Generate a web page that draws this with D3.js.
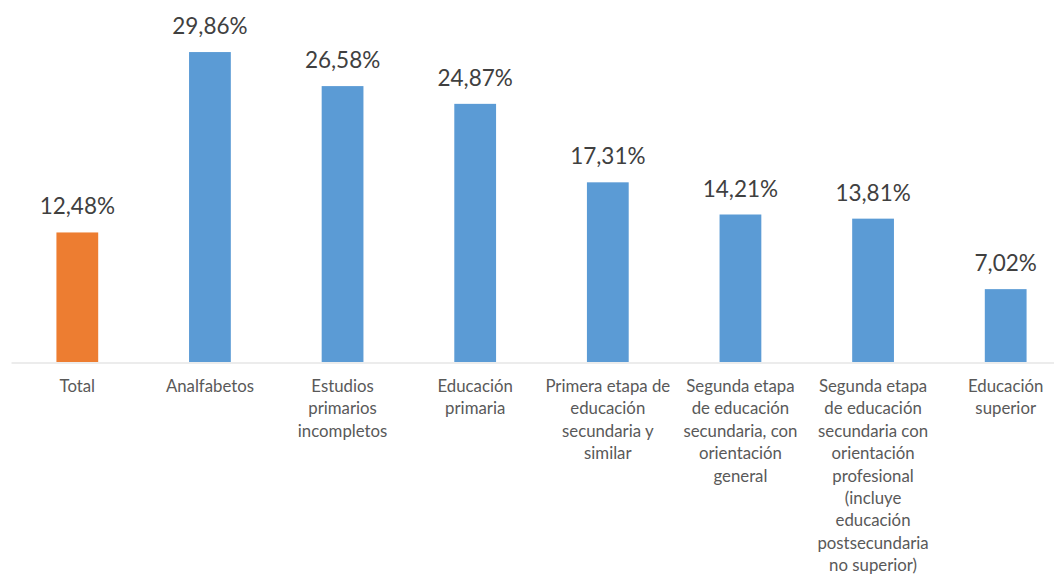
<!DOCTYPE html>
<html>
<head>
<meta charset="utf-8">
<script src="https://cdn.jsdelivr.net/npm/d3@7"></script>
<style>
  body { margin: 0; background: #fff; }
  text { font-family: Lato, "Open Sans", sans-serif; }
</style>
</head>
<body>
<svg id="bar"></svg>
<script>
// chart values
const categories = [
  ['Total'],
  ['Analfabetos'],
  ['Estudios', 'primarios', 'incompletos'],
  ['Educación', 'primaria'],
  ['Primera etapa de', 'educación', 'secundaria y', 'similar'],
  ['Segunda etapa', 'de educación', 'secundaria, con', 'orientación', 'general'],
  ['Segunda etapa', 'de educación', 'secundaria con', 'orientación', 'profesional', '(incluye', 'educación', 'postsecundaria', 'no superior)'],
  ['Educación', 'superior']
];
const values = [12.48, 29.86, 26.58, 24.87, 17.31, 14.21, 13.81, 7.02];
const valueLabels = ['12,48%', '29,86%', '26,58%', '24,87%', '17,31%', '14,21%', '13,81%', '7,02%'];

const width = 1054;
const height = 576;
const baseline = 362;

const orange = '#ED7D31';
const blue = '#5B9BD5';

const svg = d3.select('#bar')
  .attr('width', width)
  .attr('height', height);

const keys = categories.map((c, i) => i);

const scales = {
  x: d3.scaleBand().domain(keys).range([11, 1072]).paddingInner(0.685).paddingOuter(0.3425),
  y: d3.scaleLinear().domain([0, 30]).range([baseline, baseline - 311.4])
};

// bars
svg.append('g').attr('id', 'bars')
  .selectAll('rect')
  .data(values)
  .enter()
  .append('rect')
  .attr('x', (d, i) => scales.x(i))
  .attr('y', d => scales.y(d))
  .attr('width', scales.x.bandwidth())
  .attr('height', d => scales.y(0) - scales.y(d))
  .attr('fill', (d, i) => i === 0 ? orange : blue);

// baseline axis
const xAxis = d3.axisBottom(scales.x).tickSize(0).tickFormat('');
const xGroup = svg.append('g').attr('id', 'x-axis')
  .attr('transform', 'translate(0,' + (baseline + 0.5) + ')')
  .call(xAxis);
xGroup.select('.domain').attr('stroke', '#D9D9D9').attr('stroke-width', 1.2);

// category labels
const catGroup = svg.append('g').attr('id', 'categories');
categories.forEach((lines, i) => {
  const t = catGroup.append('text')
    .attr('text-anchor', 'middle')
    .attr('fill', '#595959')
    .style('font-size', '16.8px');
  lines.forEach((line, j) => {
    t.append('tspan')
      .attr('x', scales.x(i) + scales.x.bandwidth() / 2)
      .attr('y', 392 + j * 22.4)
      .text(line);
  });
});

// value labels
svg.append('g').attr('id', 'labels')
  .selectAll('text')
  .data(values)
  .enter()
  .append('text')
  .attr('x', (d, i) => scales.x(i) + scales.x.bandwidth() / 2)
  .attr('y', d => scales.y(d) - 18)
  .attr('text-anchor', 'middle')
  .attr('fill', '#404040')
  .style('font-size', '22.5px')
  .text((d, i) => valueLabels[i]);
</script>
</body>
</html>
